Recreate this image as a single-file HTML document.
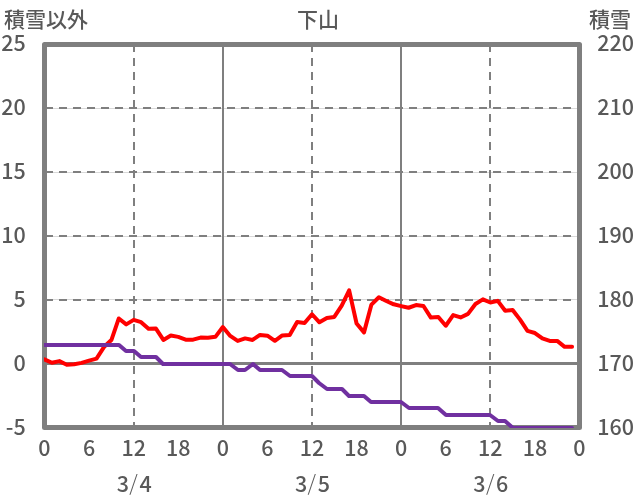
<!DOCTYPE html>
<html><head><meta charset="utf-8"><style>
html,body{margin:0;padding:0;background:#fff;}
svg{display:block;}
.t{will-change:transform;}
</style></head><body>
<svg width="636" height="501" viewBox="0 0 636 501">
<rect width="636" height="501" fill="#fff"/>
<defs><clipPath id="pc"><rect x="44" y="44" width="536" height="384"/></clipPath></defs>
<line x1="44.5" y1="108.5" x2="579.5" y2="108.5" stroke="#d9d9d9" stroke-width="1"/>
<line x1="44.5" y1="108" x2="579.5" y2="108" stroke="#7f7f7f" stroke-width="2" stroke-dasharray="8 6" stroke-dashoffset="-0.5"/>
<line x1="44.5" y1="172.5" x2="579.5" y2="172.5" stroke="#d9d9d9" stroke-width="1"/>
<line x1="44.5" y1="172" x2="579.5" y2="172" stroke="#7f7f7f" stroke-width="2" stroke-dasharray="8 6" stroke-dashoffset="-0.5"/>
<line x1="44.5" y1="236.5" x2="579.5" y2="236.5" stroke="#d9d9d9" stroke-width="1"/>
<line x1="44.5" y1="236" x2="579.5" y2="236" stroke="#7f7f7f" stroke-width="2" stroke-dasharray="8 6" stroke-dashoffset="-0.5"/>
<line x1="44.5" y1="299.5" x2="579.5" y2="299.5" stroke="#d9d9d9" stroke-width="1"/>
<line x1="44.5" y1="300" x2="579.5" y2="300" stroke="#7f7f7f" stroke-width="2" stroke-dasharray="8 6" stroke-dashoffset="-0.5"/>
<line x1="44.5" y1="363.5" x2="579.5" y2="363.5" stroke="#7f7f7f" stroke-width="3"/>
<line x1="134" y1="44.5" x2="134" y2="427.5" stroke="#7f7f7f" stroke-width="2" stroke-dasharray="8 6" stroke-dashoffset="0.5"/>
<line x1="312" y1="44.5" x2="312" y2="427.5" stroke="#7f7f7f" stroke-width="2" stroke-dasharray="8 6" stroke-dashoffset="0.5"/>
<line x1="490" y1="44.5" x2="490" y2="427.5" stroke="#7f7f7f" stroke-width="2" stroke-dasharray="8 6" stroke-dashoffset="0.5"/>
<line x1="223" y1="44.5" x2="223" y2="427.5" stroke="#7f7f7f" stroke-width="2"/>
<line x1="401" y1="44.5" x2="401" y2="427.5" stroke="#7f7f7f" stroke-width="2"/>
<rect x="44.5" y="44.5" width="535.0" height="383.0" fill="none" stroke="#7f7f7f" stroke-width="5" stroke-linejoin="round"/>
<g clip-path="url(#pc)" fill="none" stroke-width="4" stroke-linejoin="round" stroke-linecap="round">
<polyline stroke="#ff0000" points="44.50,359.45 51.93,362.77 59.36,361.11 66.79,364.69 74.22,364.18 81.65,362.90 89.08,360.60 96.51,358.56 103.94,347.07 111.38,340.05 118.81,318.47 126.24,324.35 133.67,319.88 141.10,322.18 148.53,328.81 155.96,328.56 163.39,339.92 170.82,335.58 178.25,336.86 185.68,339.67 193.11,339.67 200.54,337.62 207.97,337.75 215.40,336.86 222.83,327.03 230.26,335.96 237.69,340.94 245.12,338.39 252.56,339.92 259.99,334.94 267.42,335.71 274.85,340.81 282.28,335.45 289.71,335.07 297.14,322.05 304.57,323.07 312.00,314.26 319.43,322.30 326.86,318.09 334.29,316.94 341.72,305.71 349.15,290.39 356.58,323.45 364.01,332.39 371.44,304.56 378.88,297.28 386.31,300.98 393.74,304.30 401.17,306.09 408.60,307.75 416.03,305.07 423.46,305.96 430.89,317.58 438.32,316.94 445.75,325.75 453.18,315.03 460.61,317.45 468.04,313.88 475.47,304.05 482.90,299.32 490.33,302.51 497.76,300.85 505.19,310.69 512.62,309.92 520.06,319.62 527.49,330.86 534.92,333.03 542.35,338.39 549.78,340.94 557.21,340.94 564.64,346.81 572.07,346.81"/>
<polyline stroke="#7030a0" points="44,345 52,345 59,345 67,345 74,345 82,345 89,345 97,345 104,345 111,345 119,345 126,351 134,351 141,357 149,357 156,357 163,364 171,364 178,364 186,364 193,364 201,364 208,364 215,364 223,364 230,364 238,370 245,370 253,364 260,370 267,370 275,370 282,370 290,376 297,376 305,376 312,376 319,383 327,389 334,389 342,389 349,396 357,396 364,396 371,402 379,402 386,402 394,402 401,402 409,408 416,408 423,408 431,408 438,408 446,415 453,415 461,415 468,415 475,415 483,415 490,415 498,421 505,421 513,428 520,428 527,428 535,428 542,428 550,428 557,428 565,428 572,428"/>
</g>
<g class="t" font-family='"Noto Sans CJK JP", "Liberation Sans", sans-serif' font-size="21" fill="#595959" font-weight="500">
<text x="4" y="27">積雪以外</text>
<text x="318" y="27" text-anchor="middle">下山</text>
<text x="589" y="27">積雪</text>
<text x="25.8" y="51.00" text-anchor="end" font-size="21.5">25</text>
<text x="25.8" y="115.03" text-anchor="end" font-size="21.5">20</text>
<text x="25.8" y="179.06" text-anchor="end" font-size="21.5">15</text>
<text x="25.8" y="243.09" text-anchor="end" font-size="21.5">10</text>
<text x="25.8" y="307.12" text-anchor="end" font-size="21.5">5</text>
<text x="25.8" y="371.15" text-anchor="end" font-size="21.5">0</text>
<text x="25.8" y="435.18" text-anchor="end" font-size="21.5">-5</text>
<text x="634" y="51.00" text-anchor="end" font-size="21.5">220</text>
<text x="634" y="115.03" text-anchor="end" font-size="21.5">210</text>
<text x="634" y="179.06" text-anchor="end" font-size="21.5">200</text>
<text x="634" y="243.09" text-anchor="end" font-size="21.5">190</text>
<text x="634" y="307.12" text-anchor="end" font-size="21.5">180</text>
<text x="634" y="371.15" text-anchor="end" font-size="21.5">170</text>
<text x="634" y="435.18" text-anchor="end" font-size="21.5">160</text>
<text x="44.50" y="456" text-anchor="middle" font-size="21.5">0</text>
<text x="89.08" y="456" text-anchor="middle" font-size="21.5">6</text>
<text x="133.67" y="456" text-anchor="middle" font-size="21.5">12</text>
<text x="178.25" y="456" text-anchor="middle" font-size="21.5">18</text>
<text x="222.83" y="456" text-anchor="middle" font-size="21.5">0</text>
<text x="267.42" y="456" text-anchor="middle" font-size="21.5">6</text>
<text x="312.00" y="456" text-anchor="middle" font-size="21.5">12</text>
<text x="356.58" y="456" text-anchor="middle" font-size="21.5">18</text>
<text x="401.17" y="456" text-anchor="middle" font-size="21.5">0</text>
<text x="445.75" y="456" text-anchor="middle" font-size="21.5">6</text>
<text x="490.33" y="456" text-anchor="middle" font-size="21.5">12</text>
<text x="534.92" y="456" text-anchor="middle" font-size="21.5">18</text>
<text x="579.50" y="456" text-anchor="middle" font-size="21.5">0</text>
<text x="134.17" y="492.2" text-anchor="middle" font-size="21.5">3<tspan font-weight="300" dx="0.3" dy="-1.2">/</tspan><tspan dx="1.7" dy="1.2">4</tspan></text>
<text x="312.50" y="492.2" text-anchor="middle" font-size="21.5">3<tspan font-weight="300" dx="0.3" dy="-1.2">/</tspan><tspan dx="1.7" dy="1.2">5</tspan></text>
<text x="490.83" y="492.2" text-anchor="middle" font-size="21.5">3<tspan font-weight="300" dx="0.3" dy="-1.2">/</tspan><tspan dx="1.7" dy="1.2">6</tspan></text>
</g>
</svg>
</body></html>
